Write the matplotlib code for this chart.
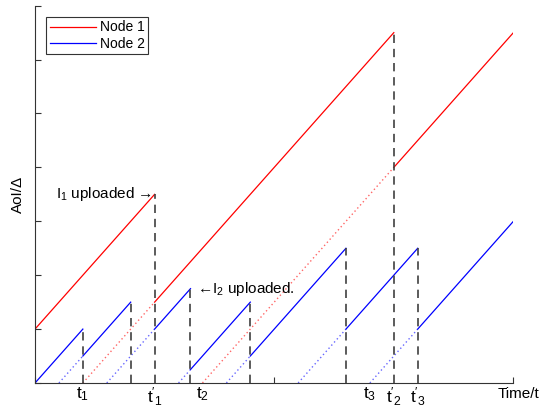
import matplotlib
matplotlib.use("Agg")
import matplotlib.pyplot as plt

plt.rcParams['font.family'] = ['Liberation Sans', 'DejaVu Sans']
plt.rcParams['mathtext.fontset'] = 'custom'
plt.rcParams['mathtext.rm'] = 'Liberation Sans'
plt.rcParams['mathtext.it'] = 'Liberation Sans'

# solid AoI segments: (t_start, t_end, aoi_start, aoi_end)
node1_t = [(0, 2.5), (2.5, 7.5), (7.5, 10)]
node1_aoi = [(1, 3.5), (1.5, 6.5), (4, 6.5)]
node2_t = [(0, 1), (1, 2), (2.5, 3.25), (3.25, 4.5), (4.5, 6.5), (6.5, 8), (8, 10)]
node2_aoi = [(0, 1), (0.5, 1.5), (1, 1.75), (0.25, 1.5), (0.5, 2.5), (1, 2.5), (1, 3)]

# dotted packet-age ramps
node1_dot_t = [(1, 2.5), (3.5, 7.5)]
node1_dot_aoi = [(0, 1.5), (0, 4)]
node2_dot_t = [(0.5, 1), (1.5, 2.5), (3, 3.25), (4, 4.5), (5.5, 6.5), (7, 8)]
node2_dot_aoi = [(0, 0.5), (0, 1), (0, 0.25), (0, 0.5), (0, 1), (0, 1)]

# dashed drop markers
drop_t = [1, 2, 2.5, 3.25, 4.5, 6.5, 7.5, 8]
drop_top = [1, 1.5, 3.5, 1.75, 1.5, 2.5, 6.5, 2.5]

tick_pos = [1, 2.5, 3.5, 7, 7.5, 8]
tick_lab = [r"$\mathregular{t_1}$", r"$\mathregular{t'_1}$", r"$\mathregular{t_2}$",
            r"$\mathregular{t_3}$", r"$\mathregular{t'_2}$", r"$\mathregular{t'_3}$"]

fig = plt.figure(figsize=(5.48, 4.09), dpi=100)
ax = fig.add_axes([0.0639, 0.0636, 0.873, 0.9225])

for i, (ts, ys) in enumerate(zip(node1_t, node1_aoi)):
    ax.plot(ts, ys, color='red', lw=0.9, label='Node 1' if i == 0 else None)
for i, (ts, ys) in enumerate(zip(node2_t, node2_aoi)):
    ax.plot(ts, ys, color='blue', lw=0.9, label='Node 2' if i == 0 else None)
for ts, ys in zip(node1_dot_t, node1_dot_aoi):
    ax.plot(ts, ys, color='red', lw=1.0, ls=(0, (1, 2)), alpha=0.6)
for ts, ys in zip(node2_dot_t, node2_dot_aoi):
    ax.plot(ts, ys, color='blue', lw=1.0, ls=(0, (1, 2)), alpha=0.6)
for t, top in zip(drop_t, drop_top):
    ax.plot([t, t], [0, top], color='#404040', lw=1.2, ls=(0, (5, 3.5)))

ax.text(2.45, 3.5, r"$\mathregular{I_1}$ uploaded →", ha='right', va='center', fontsize=11)
ax.text(3.38, 1.74, r"←$\mathregular{I_2}$ uploaded.", ha='left', va='center', fontsize=11)

ax.set_xlim(0, 10)
ax.set_ylim(0, 7)
ax.set_xticks([0, 5, 10])
ax.set_xticklabels([])
ax.set_yticks(range(8))
ax.set_yticklabels([])
ax.set_xticks(tick_pos, tick_lab, minor=True)
ax.tick_params(which='major', direction='in', length=4, color='#333333')
ax.tick_params(which='minor', length=0, labelsize=12.5, pad=2)
for s in ['top', 'right']:
    ax.spines[s].set_visible(False)
for s in ['left', 'bottom']:
    ax.spines[s].set_color('#333333')

ax.set_ylabel("AoI/Δ", fontsize=11, labelpad=4)
ax.text(1.055, -0.03, "Time/t", transform=ax.transAxes, ha='right', va='center', fontsize=11)

leg = ax.legend(loc='upper left', bbox_to_anchor=(0.024, 0.97), fontsize=10,
                handlelength=3.3, fancybox=False, framealpha=1,
                borderpad=0.25, labelspacing=0.15, handletextpad=0.3, borderaxespad=0)
leg.get_frame().set_edgecolor('#333333')
leg.get_frame().set_linewidth(0.8)

fig.savefig("out.png", dpi=100)
